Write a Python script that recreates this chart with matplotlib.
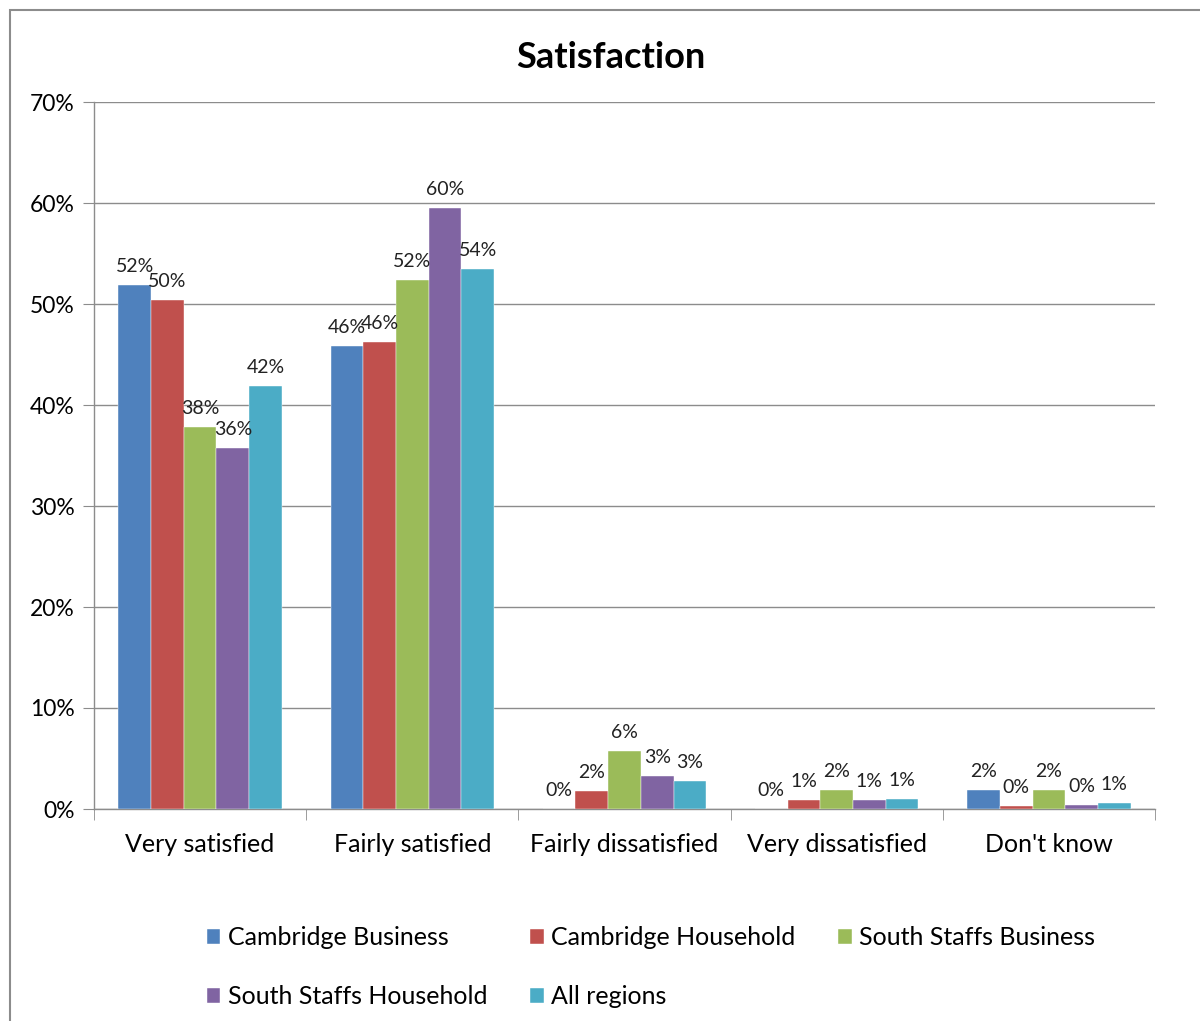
import matplotlib.pyplot as plt
import numpy as np
from matplotlib.patches import Rectangle

plt.rcParams['font.family'] = ['Lato', 'DejaVu Sans']

categories = ['Very satisfied', 'Fairly satisfied', 'Fairly dissatisfied',
              'Very dissatisfied', "Don't know"]
series_names = ['Cambridge Business', 'Cambridge Household', 'South Staffs Business',
                'South Staffs Household', 'All regions']
cambridge_business = [51.9, 45.8, 0.0, 0.0, 1.9]
cambridge_household = [50.4, 46.2, 1.8, 0.9, 0.3]
staffs_business = [37.8, 52.4, 5.7, 1.9, 1.9]
staffs_household = [35.7, 59.5, 3.3, 0.9, 0.4]
all_regions = [41.9, 53.5, 2.8, 1.0, 0.6]
colors = ['#4f81bd', '#c0504d', '#9bbb59', '#8064a2', '#4bacc6']

values = [cambridge_business, cambridge_household, staffs_business,
          staffs_household, all_regions]

fig = plt.figure(figsize=(12, 10.21), dpi=100)
# outer frame of the chart area
fig.patches.append(Rectangle((10 / 1200, -0.1), 1.2, 1.1 - 10 / 1021,
                             transform=fig.transFigure, fill=False,
                             edgecolor='#8c8c8c', linewidth=1.5))

ax = fig.add_axes([94 / 1200, 1 - 809 / 1021, (1155 - 94) / 1200, (809 - 102) / 1021])

x = np.arange(len(categories))
w = 0.154
for i, (name, vals, c) in enumerate(zip(series_names, values, colors)):
    pos = x + (i - 2) * w
    bars = ax.bar(pos, vals, width=w, color=c, label=name, zorder=3,
                  edgecolor='white', linewidth=0.3)
    for b, v in zip(bars, vals):
        ax.text(b.get_x() + b.get_width() / 2, v + 1.0, '%.0f%%' % v,
                ha='center', va='bottom', fontsize=14, color='#222222', zorder=4)

ax.set_xlim(-0.5, len(categories) - 0.5)
ax.set_ylim(0, 70)
ax.set_yticks(np.arange(0, 71, 10))
ax.set_yticklabels(['%d%%' % t for t in range(0, 71, 10)], fontsize=16.5)
ax.yaxis.grid(True, color='#8c8c8c', linewidth=1.0, zorder=0)
ax.set_axisbelow(True)

ax.set_xticks(x)
ax.set_xticklabels(categories, fontsize=18)
ax.tick_params(axis='x', length=0, pad=17)
ax.set_xticks(np.arange(-0.5, len(categories)), minor=True)
ax.tick_params(axis='x', which='minor', length=8, color='#8c8c8c', direction='out')
ax.tick_params(axis='y', length=8, color='#8c8c8c', pad=6)

for s in ['top', 'right']:
    ax.spines[s].set_visible(False)
for s in ['left', 'bottom']:
    ax.spines[s].set_color('#8c8c8c')
    ax.spines[s].set_linewidth(1.0)

fig.text(611 / 1200, 1 - 57 / 1021, 'Satisfaction', ha='center', va='center',
         fontsize=26, fontweight='bold')

# legend filled row by row
handles, labels = ax.get_legend_handles_labels()
order = [0, 3, 1, 4, 2]
fig.legend([handles[k] for k in order], [labels[k] for k in order], ncol=3,
           loc='center left', bbox_to_anchor=(184 / 1200, 1 - 967 / 1021),
           frameon=False, fontsize=18, handlelength=0.55, handleheight=0.55,
           handletextpad=0.3, columnspacing=1.7, labelspacing=1.45)

fig.savefig('out.png', dpi=100)
